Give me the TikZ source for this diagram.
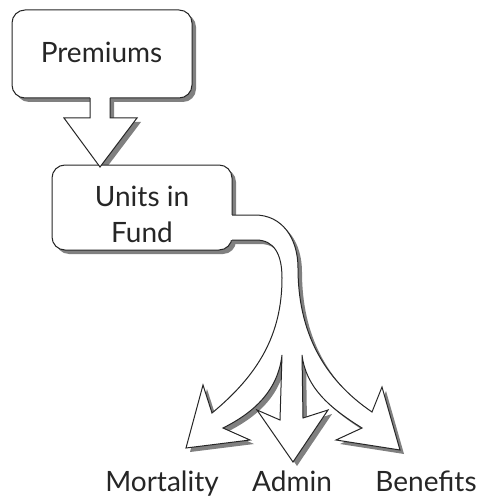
\documentclass[tikz,border=0pt]{standalone}
\usepackage{fontspec}
\setmainfont{Lato}
\usetikzlibrary{shadows}
\begin{document}
\begin{tikzpicture}[x=1pt,y=-1pt,
  ink/.style={draw=black!85, line width=1pt, line join=miter},
  shad/.style={fill=black!50},
  txt/.style={text=black!85, font=\fontsize{28}{36}\selectfont, inner sep=0pt, align=center},
  box/.style={ink, fill=white, rounded corners=13pt, minimum width=180pt,
    minimum height=88pt, inner sep=0pt,
    drop shadow={shadow xshift=4pt, shadow yshift=-4pt, fill=black!50, opacity=1}}]
\useasboundingbox (0,0) rectangle (478,497);
\def\premopen{(90,98) -- (90,118) -- (64,118) -- (100,167) -- (137,118) -- (110,118) -- (110,98)}
\def\premfill{(90,95) -- (90,118) -- (64,118) -- (100,167) -- (137,118) -- (110,118) -- (110,95) -- cycle}
\def\branchopen{(232,215) -- (255,215) .. controls (282,215) and (298,238) .. (298,268)
  .. controls (298,330) and (322,378) .. (372,412) -- (382,387) -- (400,450) -- (336,440) -- (362,428)
  .. controls (330,408) and (306,388) .. (302,355) -- (303,418) -- (328,410) -- (293,462) -- (257,410)
  -- (280,420) -- (282,355) .. controls (278,390) and (255,412) .. (223,428) -- (250,440) -- (186,448)
  -- (203,385) -- (212,413) .. controls (258,375) and (282,335) .. (282,278)
  .. controls (282,254) and (274,240) .. (256,240) -- (232,240)}
% shadows of block arrows
\fill[shad, shift={(4,4)}] \premfill;
\fill[shad, shift={(4,4)}] \branchopen -- (228,240) -- (228,215) -- cycle;
% boxes
\node[box] (prem) at (102,54) {};
\node[box, minimum height=85pt] (units) at (142,207.5) {};
\node[txt, anchor=base] (premt) at (101.5,63) {Premiums};
\node[txt, anchor=base] (unitst) at (142,206) {Units in};
\node[txt, anchor=base] (fundt) at (142,242) {Fund};
% block arrows
\fill[white] \premfill;
\draw[ink] \premopen;
\fill[white] \branchopen -- (228,240) -- (228,215) -- cycle;
\draw[ink] \branchopen;
% labels
\node[txt, anchor=base] (mort) at (162,491) {Mortality};
\node[txt, anchor=base] (admin) at (292,491) {Admin};
\node[txt, anchor=base] (ben) at (426,491) {Benefits};
\end{tikzpicture}
\end{document}
